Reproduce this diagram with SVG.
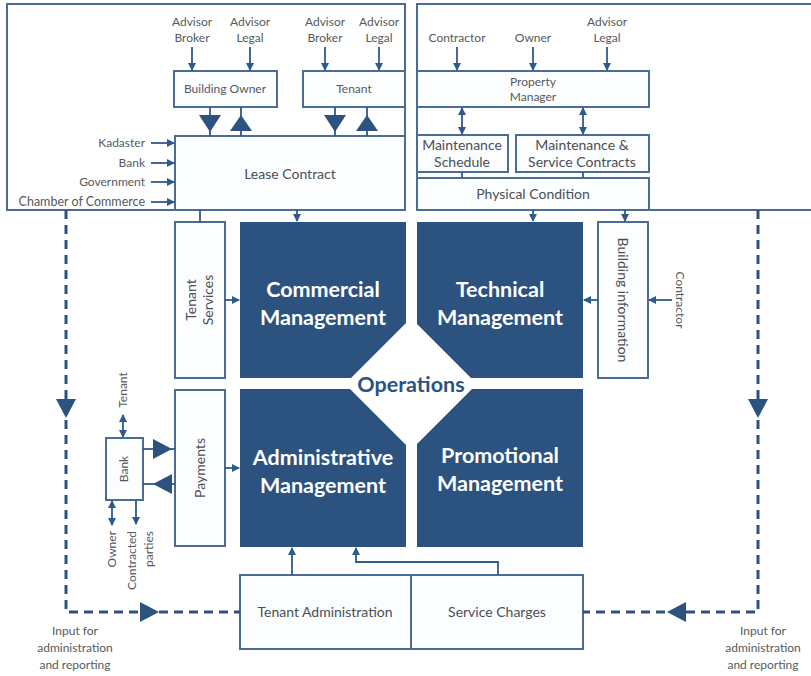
<svg xmlns="http://www.w3.org/2000/svg" width="811" height="676" viewBox="0 0 811 676">
  <style>
    .frame { fill: #ffffff; stroke: #4b6c95; stroke-width: 2; }
    .box { fill: #fcfdfe; stroke: #4b6c95; stroke-width: 2; }
    .dark { fill: #2c5380; }
    .lbl { font-family: Lato, "Open Sans", sans-serif; font-size: 12px; fill: #555a60; text-anchor: middle; }
    .blbl { font-family: Lato, "Open Sans", sans-serif; font-size: 14px; fill: #4a4f55; text-anchor: middle; }
    .title { font-family: Lato, "Open Sans", sans-serif; font-size: 21.5px; font-weight: bold; fill: #ffffff; text-anchor: middle; }
    .ops { font-family: Lato, "Open Sans", sans-serif; font-size: 21.5px; font-weight: bold; fill: #2c5380; text-anchor: middle; }
    .ln { fill: none; stroke: #2f5a8a; stroke-width: 1.8; }
    .arr { fill: none; stroke: #2f5a8a; stroke-width: 1.8; marker-end: url(#ah); }
    .dbl { fill: none; stroke: #2f5a8a; stroke-width: 1.8; marker-end: url(#ah); marker-start: url(#ah); }
    .dash { fill: none; stroke: #2c5380; stroke-width: 3; stroke-dasharray: 9 6; }
    .tri { fill: #2c5380; }
  </style>
  <defs>
    <marker id="ah" viewBox="0 0 8 8" refX="7" refY="4" markerWidth="8" markerHeight="8" markerUnits="userSpaceOnUse" orient="auto-start-reverse">
      <path d="M0,0 L8,4 L0,8 z" fill="#2f5a8a"/>
    </marker>
  </defs>

  <!-- outer frames -->
  <g id="frame-left"><rect class="frame" x="7" y="4" width="398" height="206"/></g>
  <g id="frame-right"><rect class="frame" x="417" y="4" width="400" height="206"/></g>

  <!-- left frame: contract parties -->
  <g id="advisors-owner">
    <text class="lbl" x="192" y="26">Advisor</text>
    <text class="lbl" x="192" y="42">Broker</text>
    <text class="lbl" x="250" y="26">Advisor</text>
    <text class="lbl" x="250" y="42">Legal</text>
  </g>
  <g id="advisors-tenant">
    <text class="lbl" x="325" y="26">Advisor</text>
    <text class="lbl" x="325" y="42">Broker</text>
    <text class="lbl" x="379" y="26">Advisor</text>
    <text class="lbl" x="379" y="42">Legal</text>
  </g>
  <g id="building-owner">
    <rect class="box" x="174" y="71" width="103" height="36"/>
    <text class="lbl" x="225" y="93">Building Owner</text>
  </g>
  <g id="tenant">
    <rect class="box" x="303" y="71" width="102" height="36"/>
    <text class="lbl" x="354" y="93">Tenant</text>
  </g>
  <g id="lease-contract">
    <rect class="box" x="175" y="136" width="230" height="74"/>
    <text class="blbl" x="290" y="179">Lease Contract</text>
  </g>
  <g id="registries">
    <text class="lbl" x="145" y="147" style="text-anchor:end">Kadaster</text>
    <text class="lbl" x="145" y="167" style="text-anchor:end">Bank</text>
    <text class="lbl" x="145" y="186" style="text-anchor:end">Government</text>
    <text class="lbl" x="145" y="206" style="text-anchor:end;font-size:12.5px">Chamber of Commerce</text>
  </g>

  <!-- right frame: technical parties -->
  <g id="tech-parties">
    <text class="lbl" x="457" y="42">Contractor</text>
    <text class="lbl" x="533" y="42">Owner</text>
    <text class="lbl" x="607" y="26">Advisor</text>
    <text class="lbl" x="607" y="42">Legal</text>
  </g>
  <g id="property-manager">
    <rect class="box" x="417" y="71" width="232" height="36"/>
    <text class="lbl" x="533" y="86">Property</text>
    <text class="lbl" x="533" y="101">Manager</text>
  </g>
  <g id="maintenance-schedule">
    <rect class="box" x="417" y="135" width="91" height="37"/>
    <text class="blbl" x="462" y="150">Maintenance</text>
    <text class="blbl" x="462" y="167">Schedule</text>
  </g>
  <g id="maintenance-contracts">
    <rect class="box" x="516" y="135" width="133" height="37"/>
    <text class="blbl" x="582" y="150">Maintenance &amp;</text>
    <text class="blbl" x="582" y="167">Service Contracts</text>
  </g>
  <g id="physical-condition">
    <rect class="box" x="417" y="178" width="232" height="32"/>
    <text class="blbl" x="533" y="199">Physical Condition</text>
  </g>

  <!-- side boxes -->
  <g id="tenant-services">
    <rect class="box" x="175" y="222" width="50" height="156"/>
    <text class="blbl" transform="translate(200,300) rotate(-90)" x="0" y="-4">Tenant</text>
    <text class="blbl" transform="translate(200,300) rotate(-90)" x="0" y="13">Services</text>
  </g>
  <g id="payments">
    <rect class="box" x="175" y="390" width="50" height="156"/>
    <text class="blbl" transform="translate(200,468) rotate(-90)" x="0" y="5">Payments</text>
  </g>
  <g id="bank">
    <rect class="box" x="106" y="438" width="37" height="62"/>
    <text class="lbl" transform="translate(124,469) rotate(-90)" x="0" y="4">Bank</text>
  </g>
  <g id="building-information">
    <rect class="box" x="598" y="222" width="50" height="156"/>
    <text class="blbl" transform="translate(623,300) rotate(90)" x="0" y="5">Building information</text>
  </g>
  <g id="contractor-side">
    <text class="lbl" transform="translate(680,300) rotate(90)" x="0" y="4">Contractor</text>
  </g>
  <g id="bank-parties">
    <text class="lbl" transform="translate(123,390) rotate(-90)" x="0" y="4">Tenant</text>
    <text class="lbl" transform="translate(112,531) rotate(-90)" x="0" y="4" style="text-anchor:end">Owner</text>
    <text class="lbl" transform="translate(132,531) rotate(-90)" x="0" y="4" style="text-anchor:end">Contracted</text>
    <text class="lbl" transform="translate(149,531) rotate(-90)" x="0" y="4" style="text-anchor:end">parties</text>
  </g>

  <!-- four management quadrants around Operations -->
  <g id="commercial-management">
    <rect class="dark" x="240" y="222" width="166" height="156"/>
    <text class="title" x="323" y="297">Commercial</text>
    <text class="title" x="323" y="325">Management</text>
  </g>
  <g id="technical-management">
    <rect class="dark" x="417" y="222" width="166" height="156"/>
    <text class="title" x="500" y="297">Technical</text>
    <text class="title" x="500" y="325">Management</text>
  </g>
  <g id="administrative-management">
    <rect class="dark" x="240" y="389" width="166" height="158"/>
    <text class="title" x="323" y="465">Administrative</text>
    <text class="title" x="323" y="493">Management</text>
  </g>
  <g id="promotional-management">
    <rect class="dark" x="417" y="389" width="166" height="158"/>
    <text class="title" x="500" y="463">Promotional</text>
    <text class="title" x="500" y="491">Management</text>
  </g>
  <g id="operations">
    <polygon points="411,318 477,384 411,450 345,384" fill="#ffffff"/>
    <text class="ops" x="411" y="392">Operations</text>
  </g>

  <!-- bottom boxes -->
  <g id="tenant-administration">
    <rect class="box" x="240" y="575" width="171" height="74"/>
    <text class="blbl" x="325" y="617">Tenant Administration</text>
  </g>
  <g id="service-charges">
    <rect class="box" x="411" y="575" width="172" height="74"/>
    <text class="blbl" x="497" y="617">Service Charges</text>
  </g>

  <g id="input-left">
    <text class="lbl" x="75" y="635">Input for</text>
    <text class="lbl" x="75" y="652">administration</text>
    <text class="lbl" x="75" y="669">and reporting</text>
  </g>
  <g id="input-right">
    <text class="lbl" x="763" y="635">Input for</text>
    <text class="lbl" x="763" y="652">administration</text>
    <text class="lbl" x="763" y="669">and reporting</text>
  </g>

  <!-- connectors -->
  <g id="connectors">
    <!-- advisors into owner / tenant -->
    <line class="arr" x1="192" y1="47" x2="192" y2="70"/>
    <line class="arr" x1="250" y1="47" x2="250" y2="70"/>
    <line class="arr" x1="325" y1="47" x2="325" y2="70"/>
    <line class="arr" x1="379" y1="47" x2="379" y2="70"/>
    <!-- owner / tenant to and from lease contract -->
    <line class="ln" x1="210" y1="107" x2="210" y2="136"/>
    <polygon class="tri" points="199,115 221,115 210,132"/>
    <line class="ln" x1="241" y1="107" x2="241" y2="136"/>
    <polygon class="tri" points="230,131 252,131 241,115"/>
    <line class="ln" x1="335" y1="107" x2="335" y2="136"/>
    <polygon class="tri" points="324,115 346,115 335,132"/>
    <line class="ln" x1="367" y1="107" x2="367" y2="136"/>
    <polygon class="tri" points="356,131 378,131 367,115"/>
    <!-- registries into lease contract -->
    <line class="arr" x1="151" y1="143" x2="174" y2="143"/>
    <line class="arr" x1="151" y1="163" x2="174" y2="163"/>
    <line class="arr" x1="151" y1="182" x2="174" y2="182"/>
    <line class="arr" x1="151" y1="202" x2="174" y2="202"/>
    <!-- technical parties into property manager -->
    <line class="arr" x1="457" y1="47" x2="457" y2="70"/>
    <line class="arr" x1="533" y1="47" x2="533" y2="70"/>
    <line class="arr" x1="607" y1="47" x2="607" y2="70"/>
    <!-- property manager to maintenance -->
    <line class="dbl" x1="462" y1="108" x2="462" y2="134"/>
    <line class="dbl" x1="583" y1="108" x2="583" y2="134"/>
    <line class="ln" x1="462" y1="172" x2="462" y2="178"/>
    <line class="ln" x1="583" y1="172" x2="583" y2="178"/>
    <!-- frames down into quadrants -->
    <line class="ln" x1="200" y1="210" x2="200" y2="222"/>
    <line class="arr" x1="297" y1="210" x2="297" y2="221"/>
    <line class="arr" x1="533" y1="210" x2="533" y2="221"/>
    <line class="arr" x1="625" y1="210" x2="625" y2="221"/>
    <!-- side boxes into quadrants -->
    <line class="arr" x1="225" y1="300" x2="239" y2="300"/>
    <line class="arr" x1="598" y1="300" x2="584" y2="300"/>
    <line class="arr" x1="672" y1="300" x2="649" y2="300"/>
    <line class="arr" x1="225" y1="468" x2="239" y2="468"/>
    <!-- bank and payments -->
    <line class="ln" x1="143" y1="449" x2="175" y2="449"/>
    <polygon class="tri" points="153,439 153,459 172,449"/>
    <line class="ln" x1="143" y1="484" x2="175" y2="484"/>
    <polygon class="tri" points="172,474 172,494 153,484"/>
    <line class="dbl" x1="123" y1="415" x2="123" y2="437"/>
    <line class="dbl" x1="112" y1="501" x2="112" y2="525"/>
    <line class="arr" x1="136" y1="500" x2="136" y2="524"/>
    <!-- bottom boxes up into administrative management -->
    <line class="arr" x1="292" y1="575" x2="292" y2="548"/>
    <polyline class="arr" points="498,575 498,562 356,562 356,548"/>
    <!-- dashed reporting loops -->
    <polyline class="dash" points="66,210 66,612 240,612"/>
    <polygon class="tri" points="56,399 76,399 66,418"/>
    <polygon class="tri" points="140,602 140,622 159,612"/>
    <polyline class="dash" points="758,210 758,612 583,612"/>
    <polygon class="tri" points="748,399 768,399 758,418"/>
    <polygon class="tri" points="686,602 686,622 667,612"/>
  </g>
</svg>
